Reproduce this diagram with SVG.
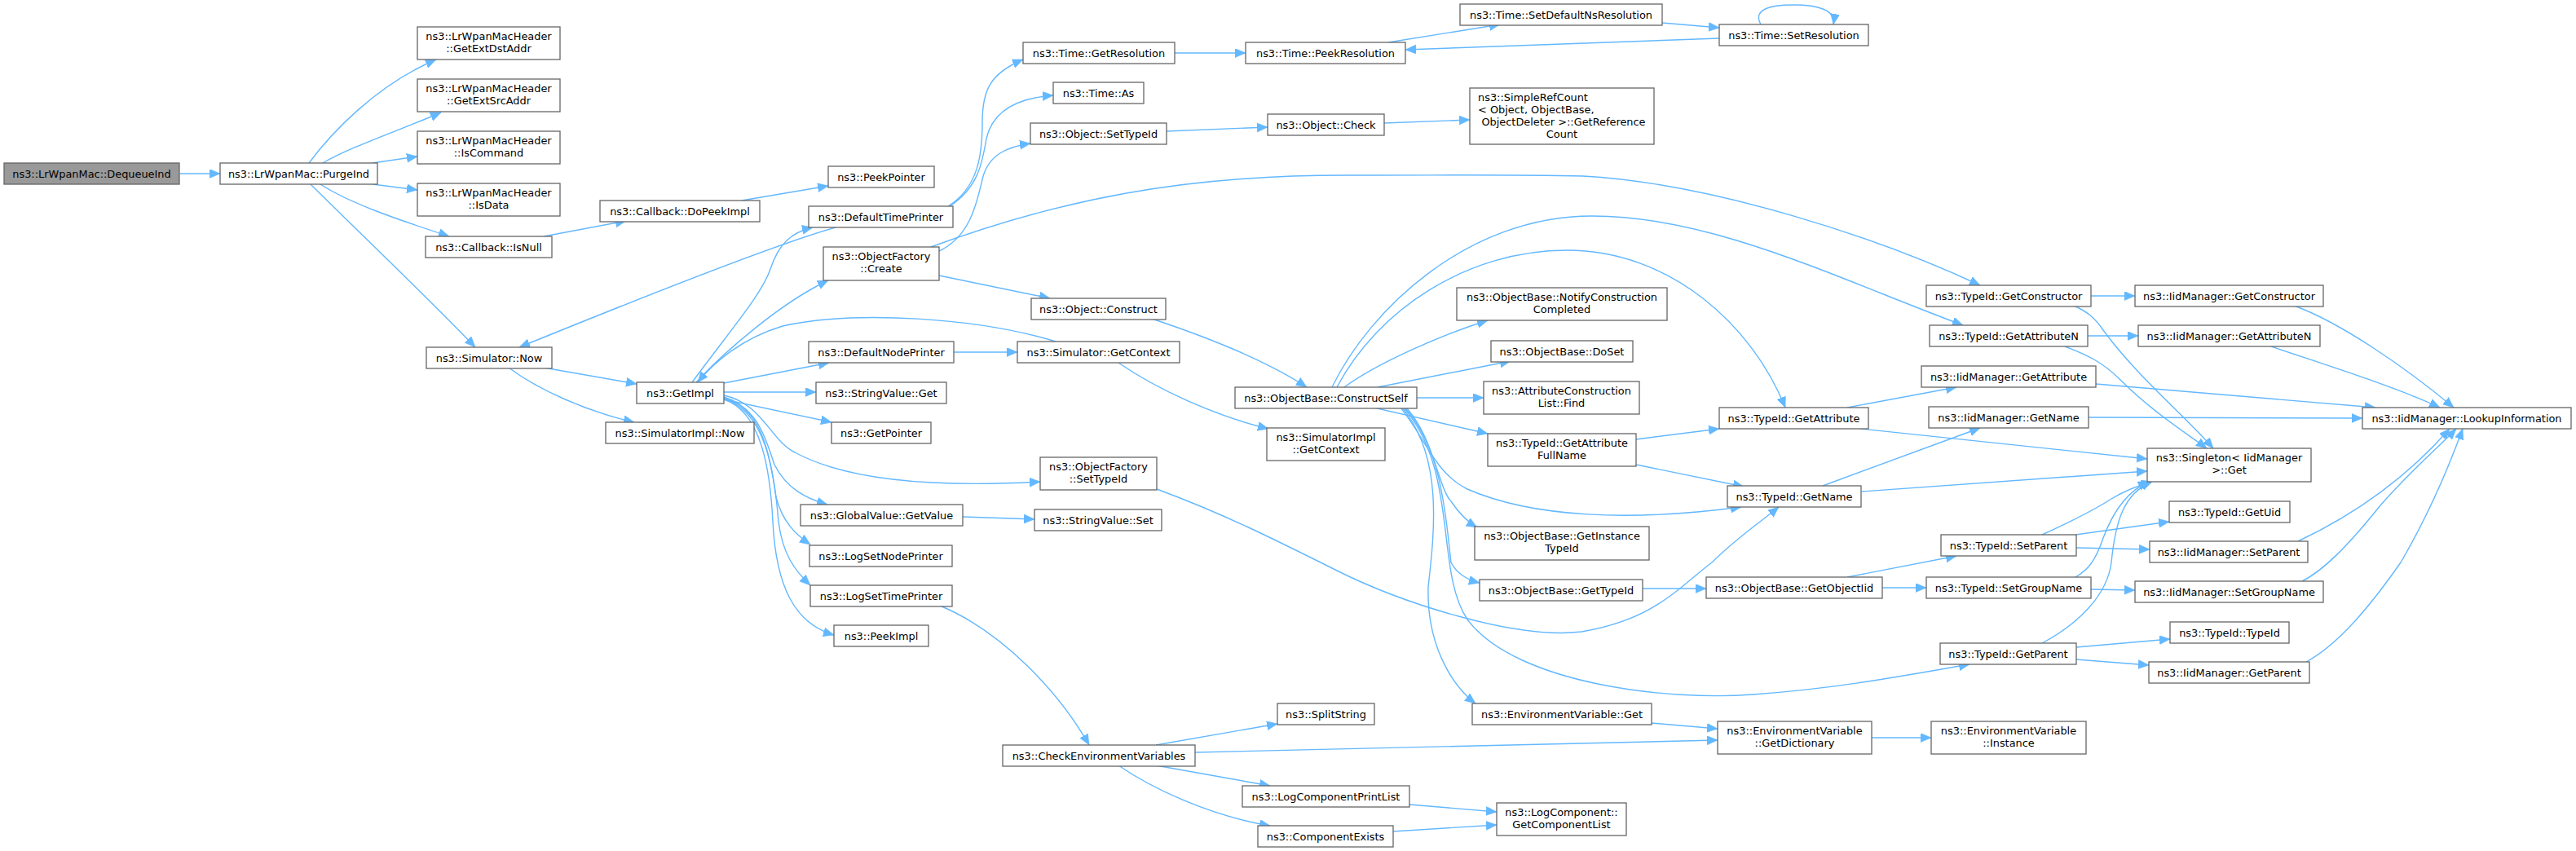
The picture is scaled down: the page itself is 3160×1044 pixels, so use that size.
<svg xmlns="http://www.w3.org/2000/svg" width="3160" height="1044" viewBox="0 0 3160 1044">
<style>
.n rect{fill:#fff;stroke:#666;stroke-width:1.3}
.root rect{fill:#999}
text{font-family:"DejaVu Sans",sans-serif;font-size:12.9px;text-anchor:middle;fill:#000}
text.l{text-anchor:start}
.e path{fill:none;stroke:#63b8ff;stroke-width:1.4;marker-end:url(#a)}
</style>
<defs>
<marker id="a" markerUnits="userSpaceOnUse" markerWidth="15" markerHeight="12" refX="13" refY="5.5" orient="auto"><path d="M0,0 L13,5.5 L0,11 z" fill="#63b8ff" stroke="#63b8ff" stroke-width="0.6"/></marker>
</defs>
<rect width="3160" height="1044" fill="#fff"/>
<g id="edges" class="e">
<path d="M221,213 L270,213"/>
<path d="M379,200 C405,165 460,105 535,73"/>
<path d="M396,200 C430,180 490,160 541,138"/>
<path d="M457,200 L512,192"/>
<path d="M457,226 L512,233"/>
<path d="M393,226 C430,250 490,270 551,290"/>
<path d="M381,226 C430,275 530,370 583,426"/>
<path d="M667,290 L768,271"/>
<path d="M910,246 L1016,228"/>
<path d="M667,451 L781,471"/>
<path d="M624,451 C660,478 720,505 778,518"/>
<path d="M849,469 C900,400 935,360 945,330 C955,300 970,285 997,279"/>
<path d="M854,469 C890,430 960,370 1016,344"/>
<path d="M1295,419 C1200,390 1050,380 960,400 C910,415 875,445 856,469"/>
<path d="M888,470 L1017,445"/>
<path d="M888,481 L1001,481"/>
<path d="M888,490 L1020,518"/>
<path d="M888,485 C935,495 945,540 975,555 C1040,590 1150,598 1276,591"/>
<path d="M888,487 C930,500 940,540 950,570 C965,600 990,612 1015,619"/>
<path d="M888,488 C935,500 945,560 952,610 C960,640 975,655 994,668"/>
<path d="M888,489 C940,505 950,580 955,640 C960,680 975,700 994,718"/>
<path d="M888,490 C935,505 945,580 948,640 C952,720 975,765 1023,779"/>
<path d="M1025,279 C950,300 750,380 637,426"/>
<path d="M1163,253 C1200,230 1205,190 1205,150 C1205,110 1215,90 1255,73"/>
<path d="M1165,253 C1200,230 1205,200 1210,170 C1218,135 1250,120 1292,117"/>
<path d="M1152,308 C1190,290 1198,250 1205,220 C1212,190 1235,180 1264,176"/>
<path d="M1142,303 C1300,245 1450,215 1650,215 C1800,215 1850,214 1942,216 C2100,225 2300,290 2429,350"/>
<path d="M1152,338 L1288,366"/>
<path d="M1170,432 L1248,432"/>
<path d="M1372,445 C1420,478 1490,510 1556,526"/>
<path d="M1181,634 L1269,637"/>
<path d="M1413,391 C1470,410 1550,440 1603,475"/>
<path d="M1419,600 C1500,630 1560,660 1640,700 C1720,740 1860,785 1940,775 C2030,760 2060,720 2100,690 C2130,660 2160,640 2182,622"/>
<path d="M1153,743 C1230,775 1300,850 1336,914"/>
<path d="M1418,914 L1567,888"/>
<path d="M1466,923 L2107,908"/>
<path d="M1418,939 L1558,964"/>
<path d="M1372,939 C1410,965 1480,1000 1558,1013"/>
<path d="M1729,987 L1836,996"/>
<path d="M1709,1020 L1836,1012"/>
<path d="M2026,887 L2107,894"/>
<path d="M2296,905 L2369,905"/>
<path d="M1441,65 L1528,65"/>
<path d="M1703,52 L1840,30"/>
<path d="M2039,28 L2109,34"/>
<path d="M2109,47 L1724,61"/>
<path d="M2160,30 C2150,12 2170,6 2200,6 C2230,6 2252,12 2249,30"/>
<path d="M1431,161 L1555,156"/>
<path d="M1698,151 L1803,147"/>
<path d="M1649,475 C1690,445 1770,410 1825,393"/>
<path d="M1690,475 L1853,443"/>
<path d="M1738,488 L1820,488"/>
<path d="M1685,500 L1825,532"/>
<path d="M1718,500 C1750,540 1760,580 1800,600 C1880,635 2000,640 2136,622"/>
<path d="M1723,500 C1760,540 1765,600 1780,615 C1790,630 1800,640 1812,647"/>
<path d="M1725,500 C1770,550 1775,650 1780,690 C1785,700 1795,710 1815,715"/>
<path d="M1720,500 C1770,560 1760,650 1752,720 C1750,790 1780,840 1810,863"/>
<path d="M1722,500 C1790,580 1760,700 1800,760 C1860,840 2050,860 2150,852 C2250,845 2330,830 2416,815"/>
<path d="M1634,475 C1680,380 1800,265 1953,265 C2100,265 2250,340 2408,399"/>
<path d="M1640,475 C1690,380 1800,307 1922,307 C2050,307 2150,400 2190,500"/>
<path d="M2007,539 L2109,526"/>
<path d="M2007,570 L2139,597"/>
<path d="M2266,500 L2400,475"/>
<path d="M2282,526 L2634,563"/>
<path d="M2236,596 L2429,525"/>
<path d="M2284,603 L2634,578"/>
<path d="M2015,722 L2093,722"/>
<path d="M2266,708 L2400,682"/>
<path d="M2309,721 L2363,721"/>
<path d="M2565,363 L2619,363"/>
<path d="M2544,375 C2560,382 2570,390 2580,405 C2620,460 2680,510 2715,550"/>
<path d="M2561,412 L2623,412"/>
<path d="M2533,425 C2560,435 2580,445 2600,465 C2640,505 2680,530 2707,550"/>
<path d="M2814,375 C2870,395 2950,450 3010,500"/>
<path d="M2786,425 C2860,450 2940,475 2993,500"/>
<path d="M2571,471 L2914,500"/>
<path d="M2562,512 L2898,513"/>
<path d="M2505,656 C2540,640 2570,625 2590,612 C2610,600 2625,595 2640,591"/>
<path d="M2546,656 L2661,640"/>
<path d="M2547,672 L2637,674"/>
<path d="M2819,664 C2870,640 2940,600 3005,526"/>
<path d="M2565,723 L2619,724"/>
<path d="M2546,708 C2560,700 2570,690 2580,660 C2595,620 2615,600 2636,591"/>
<path d="M2505,789 C2550,765 2585,730 2590,690 C2595,640 2605,605 2640,591"/>
<path d="M2547,794 L2662,784"/>
<path d="M2547,809 L2636,816"/>
<path d="M2824,713 C2850,700 2880,670 2920,620 C2960,575 2990,550 3013,526"/>
<path d="M2829,812 C2870,790 2910,740 2945,690 C2980,630 3005,570 3021,526"/>
</g>
<g id="n1" class="n root"><rect x="5" y="200" width="215" height="26"/><text x="112.5" y="217.5">ns3::LrWpanMac::DequeueInd</text></g>
<g id="n2" class="n"><rect x="270" y="200" width="193" height="26"/><text x="366.5" y="217.5">ns3::LrWpanMac::PurgeInd</text></g>
<g id="n3" class="n"><rect x="512" y="33" width="175" height="40"/><text x="599.5" y="49">ns3::LrWpanMacHeader</text><text x="599.5" y="64">::GetExtDstAddr</text></g>
<g id="n4" class="n"><rect x="512" y="97" width="175" height="40"/><text x="599.5" y="113">ns3::LrWpanMacHeader</text><text x="599.5" y="128">::GetExtSrcAddr</text></g>
<g id="n5" class="n"><rect x="512" y="161" width="175" height="40"/><text x="599.5" y="177">ns3::LrWpanMacHeader</text><text x="599.5" y="192">::IsCommand</text></g>
<g id="n6" class="n"><rect x="512" y="225" width="175" height="40"/><text x="599.5" y="241">ns3::LrWpanMacHeader</text><text x="599.5" y="256">::IsData</text></g>
<g id="n7" class="n"><rect x="522" y="290" width="155" height="26"/><text x="599.5" y="307.5">ns3::Callback::IsNull</text></g>
<g id="n8" class="n"><rect x="736" y="246" width="196" height="26"/><text x="834" y="263.5">ns3::Callback::DoPeekImpl</text></g>
<g id="n9" class="n"><rect x="1016" y="204" width="130" height="26"/><text x="1081" y="221.5">ns3::PeekPointer</text></g>
<g id="n10" class="n"><rect x="523" y="426" width="154" height="26"/><text x="600" y="443.5">ns3::Simulator::Now</text></g>
<g id="n11" class="n"><rect x="743" y="518" width="182" height="26"/><text x="834" y="535.5">ns3::SimulatorImpl::Now</text></g>
<g id="n12" class="n"><rect x="781" y="469" width="107" height="26"/><text x="834.5" y="486.5">ns3::GetImpl</text></g>
<g id="n13" class="n"><rect x="992" y="253" width="177" height="26"/><text x="1080.5" y="270.5">ns3::DefaultTimePrinter</text></g>
<g id="n14" class="n"><rect x="1010" y="303" width="142" height="41"/><text x="1081" y="319">ns3::ObjectFactory</text><text x="1081" y="334">::Create</text></g>
<g id="n15" class="n"><rect x="992" y="419" width="178" height="26"/><text x="1081" y="436.5">ns3::DefaultNodePrinter</text></g>
<g id="n16" class="n"><rect x="1248" y="419" width="199" height="26"/><text x="1347.5" y="436.5">ns3::Simulator::GetContext</text></g>
<g id="n17" class="n"><rect x="1001" y="469" width="160" height="26"/><text x="1081" y="486.5">ns3::StringValue::Get</text></g>
<g id="n18" class="n"><rect x="1020" y="518" width="122" height="26"/><text x="1081" y="535.5">ns3::GetPointer</text></g>
<g id="n19" class="n"><rect x="1276" y="561" width="143" height="40"/><text x="1347.5" y="577">ns3::ObjectFactory</text><text x="1347.5" y="592">::SetTypeId</text></g>
<g id="n20" class="n"><rect x="982" y="619" width="199" height="26"/><text x="1081.5" y="636.5">ns3::GlobalValue::GetValue</text></g>
<g id="n21" class="n"><rect x="1269" y="625" width="156" height="26"/><text x="1347" y="642.5">ns3::StringValue::Set</text></g>
<g id="n22" class="n"><rect x="993" y="669" width="175" height="26"/><text x="1080.5" y="686.5">ns3::LogSetNodePrinter</text></g>
<g id="n23" class="n"><rect x="994" y="718" width="174" height="26"/><text x="1081" y="735.5">ns3::LogSetTimePrinter</text></g>
<g id="n24" class="n"><rect x="1023" y="767" width="116" height="26"/><text x="1081" y="784.5">ns3::PeekImpl</text></g>
<g id="n25" class="n"><rect x="1230" y="914" width="236" height="26"/><text x="1348" y="931.5">ns3::CheckEnvironmentVariables</text></g>
<g id="n26" class="n"><rect x="1567" y="863" width="119" height="26"/><text x="1626.5" y="880.5">ns3::SplitString</text></g>
<g id="n27" class="n"><rect x="1524" y="964" width="205" height="26"/><text x="1626.5" y="981.5">ns3::LogComponentPrintList</text></g>
<g id="n28" class="n"><rect x="1543" y="1013" width="166" height="26"/><text x="1626" y="1030.5">ns3::ComponentExists</text></g>
<g id="n29" class="n"><rect x="1836" y="985" width="159" height="40"/><text x="1915.5" y="1001">ns3::LogComponent::</text><text x="1915.5" y="1016">GetComponentList</text></g>
<g id="n30" class="n"><rect x="1806" y="863" width="220" height="26"/><text x="1916" y="880.5">ns3::EnvironmentVariable::Get</text></g>
<g id="n31" class="n"><rect x="2107" y="885" width="189" height="40"/><text x="2201.5" y="901">ns3::EnvironmentVariable</text><text x="2201.5" y="916">::GetDictionary</text></g>
<g id="n32" class="n"><rect x="2369" y="885" width="190" height="40"/><text x="2464" y="901">ns3::EnvironmentVariable</text><text x="2464" y="916">::Instance</text></g>
<g id="n33" class="n"><rect x="1255" y="52" width="186" height="26"/><text x="1348" y="69.5">ns3::Time::GetResolution</text></g>
<g id="n34" class="n"><rect x="1292" y="101" width="111" height="26"/><text x="1347.5" y="118.5">ns3::Time::As</text></g>
<g id="n35" class="n"><rect x="1264" y="151" width="167" height="26"/><text x="1347.5" y="168.5">ns3::Object::SetTypeId</text></g>
<g id="n36" class="n"><rect x="1528" y="52" width="196" height="26"/><text x="1626" y="69.5">ns3::Time::PeekResolution</text></g>
<g id="n37" class="n"><rect x="1791" y="5" width="248" height="26"/><text x="1915" y="22.5">ns3::Time::SetDefaultNsResolution</text></g>
<g id="n38" class="n"><rect x="2109" y="30" width="183" height="26"/><text x="2200.5" y="47.5">ns3::Time::SetResolution</text></g>
<g id="n39" class="n"><rect x="1555" y="140" width="143" height="26"/><text x="1626.5" y="157.5">ns3::Object::Check</text></g>
<g id="n40" class="n"><rect x="1803" y="108" width="226" height="69"/><text class="l" x="1813" y="124">ns3::SimpleRefCount</text><text class="l" x="1813" y="139">&lt; Object, ObjectBase,</text><text x="1918" y="154">ObjectDeleter &gt;::GetReference</text><text x="1916" y="169">Count</text></g>
<g id="n41" class="n"><rect x="1265" y="366" width="165" height="26"/><text x="1347.5" y="383.5">ns3::Object::Construct</text></g>
<g id="n42" class="n"><rect x="1515" y="475" width="223" height="26"/><text x="1626.5" y="492.5">ns3::ObjectBase::ConstructSelf</text></g>
<g id="n43" class="n"><rect x="1554" y="525" width="145" height="40"/><text x="1626.5" y="541">ns3::SimulatorImpl</text><text x="1626.5" y="556">::GetContext</text></g>
<g id="n44" class="n"><rect x="1787" y="353" width="258" height="40"/><text x="1916" y="369">ns3::ObjectBase::NotifyConstruction</text><text x="1916" y="384">Completed</text></g>
<g id="n45" class="n"><rect x="1829" y="418" width="174" height="26"/><text x="1916" y="435.5">ns3::ObjectBase::DoSet</text></g>
<g id="n46" class="n"><rect x="1820" y="468" width="191" height="40"/><text x="1915.5" y="484">ns3::AttributeConstruction</text><text x="1915.5" y="499">List::Find</text></g>
<g id="n47" class="n"><rect x="1825" y="532" width="182" height="40"/><text x="1916" y="548">ns3::TypeId::GetAttribute</text><text x="1916" y="563">FullName</text></g>
<g id="n48" class="n"><rect x="2109" y="500" width="183" height="26"/><text x="2200.5" y="517.5">ns3::TypeId::GetAttribute</text></g>
<g id="n49" class="n"><rect x="2119" y="596" width="164" height="26"/><text x="2201" y="613.5">ns3::TypeId::GetName</text></g>
<g id="n50" class="n"><rect x="1809" y="646" width="214" height="41"/><text x="1916" y="662">ns3::ObjectBase::GetInstance</text><text x="1916" y="677">TypeId</text></g>
<g id="n51" class="n"><rect x="1815" y="711" width="200" height="26"/><text x="1915" y="728.5">ns3::ObjectBase::GetTypeId</text></g>
<g id="n52" class="n"><rect x="2093" y="708" width="216" height="26"/><text x="2201" y="725.5">ns3::ObjectBase::GetObjectIid</text></g>
<g id="n53" class="n"><rect x="2363" y="350" width="202" height="26"/><text x="2464" y="367.5">ns3::TypeId::GetConstructor</text></g>
<g id="n54" class="n"><rect x="2619" y="350" width="231" height="26"/><text x="2734.5" y="367.5">ns3::IidManager::GetConstructor</text></g>
<g id="n55" class="n"><rect x="2367" y="399" width="194" height="26"/><text x="2464" y="416.5">ns3::TypeId::GetAttributeN</text></g>
<g id="n56" class="n"><rect x="2623" y="399" width="223" height="26"/><text x="2734.5" y="416.5">ns3::IidManager::GetAttributeN</text></g>
<g id="n57" class="n"><rect x="2357" y="449" width="214" height="26"/><text x="2464" y="466.5">ns3::IidManager::GetAttribute</text></g>
<g id="n58" class="n"><rect x="2366" y="499" width="196" height="26"/><text x="2464" y="516.5">ns3::IidManager::GetName</text></g>
<g id="n59" class="n"><rect x="2898" y="500" width="256" height="26"/><text x="3026" y="517.5">ns3::IidManager::LookupInformation</text></g>
<g id="n60" class="n"><rect x="2634" y="550" width="201" height="41"/><text x="2734.5" y="566">ns3::Singleton&lt; IidManager</text><text x="2734.5" y="581">&gt;::Get</text></g>
<g id="n61" class="n"><rect x="2661" y="615" width="148" height="26"/><text x="2735" y="632.5">ns3::TypeId::GetUid</text></g>
<g id="n62" class="n"><rect x="2381" y="656" width="166" height="26"/><text x="2464" y="673.5">ns3::TypeId::SetParent</text></g>
<g id="n63" class="n"><rect x="2637" y="664" width="194" height="26"/><text x="2734" y="681.5">ns3::IidManager::SetParent</text></g>
<g id="n64" class="n"><rect x="2363" y="708" width="202" height="26"/><text x="2464" y="725.5">ns3::TypeId::SetGroupName</text></g>
<g id="n65" class="n"><rect x="2619" y="713" width="231" height="26"/><text x="2734.5" y="730.5">ns3::IidManager::SetGroupName</text></g>
<g id="n66" class="n"><rect x="2662" y="763" width="146" height="26"/><text x="2735" y="780.5">ns3::TypeId::TypeId</text></g>
<g id="n67" class="n"><rect x="2380" y="789" width="167" height="26"/><text x="2463.5" y="806.5">ns3::TypeId::GetParent</text></g>
<g id="n68" class="n"><rect x="2636" y="812" width="197" height="26"/><text x="2734.5" y="829.5">ns3::IidManager::GetParent</text></g>
</svg>
